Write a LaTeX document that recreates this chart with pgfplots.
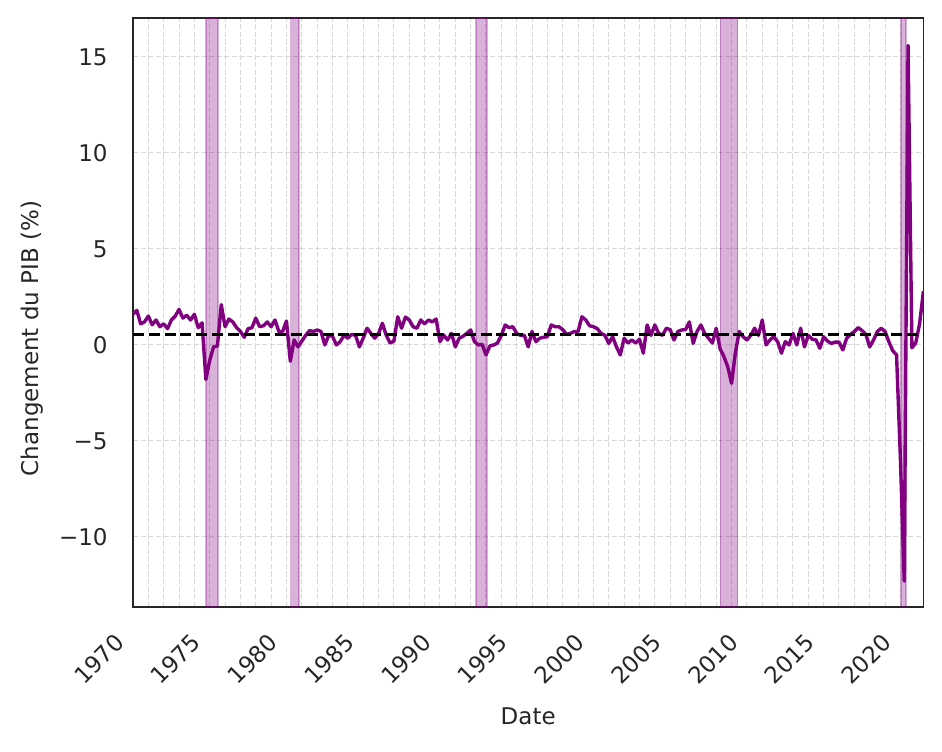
\documentclass[border=0pt]{standalone}
\usepackage{fontspec}
\setmainfont{DejaVu Sans}
\usepackage{graphicx}
\usepackage{pgfplots}
\pgfplotsset{compat=1.18}
\definecolor{mpurple}{HTML}{800080}
\definecolor{spine}{HTML}{262626}
\definecolor{gridc}{HTML}{D8D8D8}
\newcommand{\rl}[1]{\rotatebox{45}{\vphantom{lp}#1}}
\begin{document}
\begin{tikzpicture}
\useasboundingbox (-66.5pt,-72pt) rectangle (404.5pt,303.5pt);
\begin{axis}[
  at={(0,0)}, anchor=south west,
  scale only axis, width=395.2pt, height=294.5pt,
  xmin=1970, xmax=2021.5, ymin=-13.65, ymax=17.03,
  axis line style={spine, line width=0.9pt},
  tick style={draw=none},
  xtick={1970,1975,1980,1985,1990,1995,2000,2005,2010,2015,2020},
  xticklabels={\rl{1970},\rl{1975},\rl{1980},\rl{1985},\rl{1990},\rl{1995},\rl{2000},\rl{2005},\rl{2010},\rl{2015},\rl{2020}},
  minor x tick num=4,
  ytick={-10,-5,0,5,10,15},
  yticklabels={−10,−5,0,5,10,15},
  grid=both,
  major grid style={gridc, dash pattern=on 2.6pt off 1.2pt, line width=0.5pt},
  minor grid style={gridc, dash pattern=on 2.6pt off 1.2pt, line width=0.5pt},
  tick label style={font=\fontsize{11.5}{13}\selectfont, color=spine},
  yticklabel style={anchor=east, inner sep=0pt, xshift=-12.5pt},
  xticklabel style={anchor=north east, inner sep=0pt, xshift=-1.8pt, yshift=-12.3pt},
  xlabel={Date}, ylabel={Changement du PIB (\%)},
  label style={font=\fontsize{11.5}{13}\selectfont, color=spine},
  xlabel style={at={(axis description cs:0.5,-0.185)}, anchor=center},
  ylabel style={at={(axis description cs:-0.1278,0.456)}, anchor=center},
]
% recession bands
\addplot[fill=mpurple, fill opacity=0.3, draw=mpurple, draw opacity=0.3, line width=0.75pt] coordinates {(1974.75,-13.65) (1975.55,-13.65) (1975.55,17.03) (1974.75,17.03)} -- cycle;
\addplot[fill=mpurple, fill opacity=0.3, draw=mpurple, draw opacity=0.3, line width=0.75pt] coordinates {(1980.27,-13.65) (1980.8,-13.65) (1980.8,17.03) (1980.27,17.03)} -- cycle;
\addplot[fill=mpurple, fill opacity=0.3, draw=mpurple, draw opacity=0.3, line width=0.75pt] coordinates {(1992.35,-13.65) (1993.08,-13.65) (1993.08,17.03) (1992.35,17.03)} -- cycle;
\addplot[fill=mpurple, fill opacity=0.3, draw=mpurple, draw opacity=0.3, line width=0.75pt] coordinates {(2008.27,-13.65) (2009.4,-13.65) (2009.4,17.03) (2008.27,17.03)} -- cycle;
\addplot[fill=mpurple, fill opacity=0.3, draw=mpurple, draw opacity=0.3, line width=0.75pt] coordinates {(2020.05,-13.65) (2020.35,-13.65) (2020.35,17.03) (2020.05,17.03)} -- cycle;
% GDP change
\addplot[mpurple, line width=1.7pt, line join=round] table[row sep=\\] {
x y\\
1970 1.6\\ 1970.25 1.8\\ 1970.5 1.1\\ 1970.75 1.2\\
1971 1.5\\ 1971.25 1.05\\ 1971.5 1.3\\ 1971.75 0.95\\
1972 1.1\\ 1972.25 0.85\\ 1972.5 1.3\\ 1972.75 1.5\\
1973 1.85\\ 1973.25 1.4\\ 1973.5 1.55\\ 1973.75 1.3\\
1974 1.6\\ 1974.25 0.9\\ 1974.5 1.15\\ 1974.75 -1.8\\
1975 -0.8\\ 1975.25 -0.1\\ 1975.5 -0.05\\ 1975.75 2.1\\
1976 0.95\\ 1976.25 1.35\\ 1976.5 1.2\\ 1976.75 0.9\\
1977 0.7\\ 1977.25 0.4\\ 1977.5 0.85\\ 1977.75 0.9\\
1978 1.4\\ 1978.25 0.95\\ 1978.5 1.0\\ 1978.75 1.2\\
1979 0.95\\ 1979.25 1.3\\ 1979.5 0.7\\ 1979.75 0.7\\
1980 1.25\\ 1980.25 -0.85\\ 1980.5 0.26\\ 1980.75 -0.1\\
1981 0.2\\ 1981.25 0.5\\ 1981.5 0.75\\ 1981.75 0.7\\
1982 0.78\\ 1982.25 0.7\\ 1982.5 0.0\\ 1982.75 0.5\\
1983 0.45\\ 1983.25 0.0\\ 1983.5 0.17\\ 1983.75 0.5\\
1984 0.35\\ 1984.25 0.55\\ 1984.5 0.5\\ 1984.75 -0.1\\
1985 0.35\\ 1985.25 0.87\\ 1985.5 0.6\\ 1985.75 0.35\\
1986 0.6\\ 1986.25 1.13\\ 1986.5 0.5\\ 1986.75 0.1\\
1987 0.2\\ 1987.25 1.47\\ 1987.5 0.87\\ 1987.75 1.45\\
1988 1.3\\ 1988.25 0.95\\ 1988.5 0.87\\ 1988.75 1.3\\
1989 1.1\\ 1989.25 1.3\\ 1989.5 1.2\\ 1989.75 1.35\\
1990 0.17\\ 1990.25 0.5\\ 1990.5 0.26\\ 1990.75 0.6\\
1991 -0.1\\ 1991.25 0.35\\ 1991.5 0.45\\ 1991.75 0.6\\
1992 0.78\\ 1992.25 0.17\\ 1992.5 0.0\\ 1992.75 0.03\\
1993 -0.52\\ 1993.25 -0.05\\ 1993.5 0.0\\ 1993.75 0.1\\
1994 0.5\\ 1994.25 1.04\\ 1994.5 0.9\\ 1994.75 0.95\\
1995 0.6\\ 1995.25 0.5\\ 1995.5 0.5\\ 1995.75 -0.1\\
1996 0.7\\ 1996.25 0.17\\ 1996.5 0.35\\ 1996.75 0.4\\
1997 0.43\\ 1997.25 1.04\\ 1997.5 0.95\\ 1997.75 0.95\\
1998 0.8\\ 1998.25 0.55\\ 1998.5 0.6\\ 1998.75 0.7\\
1999 0.7\\ 1999.25 1.47\\ 1999.5 1.3\\ 1999.75 1.0\\
2000 0.95\\ 2000.25 0.85\\ 2000.5 0.6\\ 2000.75 0.5\\
2001 0.08\\ 2001.25 0.43\\ 2001.5 -0.1\\ 2001.75 -0.52\\
2002 0.35\\ 2002.25 0.1\\ 2002.5 0.26\\ 2002.75 0.1\\
2003 0.3\\ 2003.25 -0.43\\ 2003.5 1.04\\ 2003.75 0.5\\
2004 1.04\\ 2004.25 0.6\\ 2004.5 0.5\\ 2004.75 0.87\\
2005 0.8\\ 2005.25 0.26\\ 2005.5 0.7\\ 2005.75 0.78\\
2006 0.8\\ 2006.25 1.2\\ 2006.5 0.08\\ 2006.75 0.7\\
2007 1.04\\ 2007.25 0.6\\ 2007.5 0.35\\ 2007.75 0.1\\
2008 0.87\\ 2008.25 -0.2\\ 2008.5 -0.6\\ 2008.75 -1.13\\
2009 -2.0\\ 2009.25 -0.4\\ 2009.5 0.7\\ 2009.75 0.43\\
2010 0.26\\ 2010.25 0.5\\ 2010.5 0.87\\ 2010.75 0.5\\
2011 1.3\\ 2011.25 0.0\\ 2011.5 0.26\\ 2011.75 0.43\\
2012 0.17\\ 2012.25 -0.43\\ 2012.5 0.17\\ 2012.75 0.0\\
2013 0.6\\ 2013.25 0.0\\ 2013.5 0.87\\ 2013.75 -0.1\\
2014 0.5\\ 2014.25 0.3\\ 2014.5 0.26\\ 2014.75 -0.17\\
2015 0.43\\ 2015.25 0.2\\ 2015.5 0.08\\ 2015.75 0.15\\
2016 0.15\\ 2016.25 -0.26\\ 2016.5 0.35\\ 2016.75 0.55\\
2017 0.7\\ 2017.25 0.9\\ 2017.5 0.75\\ 2017.75 0.55\\
2018 -0.1\\ 2018.25 0.26\\ 2018.5 0.7\\ 2018.75 0.87\\
2019 0.7\\ 2019.25 0.17\\ 2019.5 -0.3\\ 2019.75 -0.52\\
2020 -5.9\\ 2020.25 -12.3\\ 2020.5 15.6\\ 2020.75 -0.15\\
2021 0.1\\ 2021.25 1.1\\ 2021.5 2.8\\
};
% mean
\addplot[black, line width=1.6pt, dash pattern=on 5.5pt off 2.4pt] coordinates {(1970,0.53) (2021.5,0.53)};
\end{axis}
\end{tikzpicture}
\end{document}
